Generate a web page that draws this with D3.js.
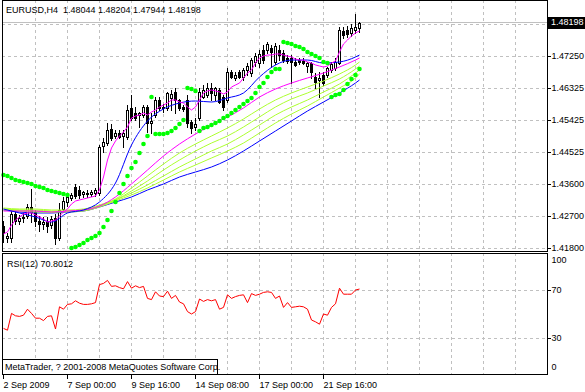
<!DOCTYPE html>
<html>
<head>
<meta charset="utf-8">
<script src="https://cdn.jsdelivr.net/npm/d3@7"></script>
<style>
  html, body { margin: 0; padding: 0; background: #fff; }
  svg { display: block; font-family: "Liberation Sans", Arial, sans-serif; font-size: 9px; }
  .pre { white-space: pre; }
</style>
</head>
<body>
<div id="chart"></div>
<script>
// ---- data ----
const title = 'EURUSD,H4  1.48044 1.48204 1.47944 1.48198';
const bid = 1.48198;

const opens = [1.42425,1.42084,1.42084,1.42765,1.42567,1.42652,1.42708,1.42964,1.42822,1.42567,
  1.42482,1.42567,1.42453,1.42652,1.42084,1.42907,1.43106,1.43219,1.43532,1.43446,
  1.43333,1.43361,1.43333,1.43361,1.43361,1.44695,1.44780,1.45178,1.44979,1.45064,
  1.44979,1.44951,1.45774,1.45632,1.45575,1.45575,1.45802,1.45348,1.45575,1.46001,
  1.45774,1.45774,1.46058,1.46228,1.46001,1.45802,1.46001,1.45377,1.45235,1.45490,
  1.46086,1.46143,1.46342,1.46143,1.46285,1.46086,1.46001,1.46796,1.46626,1.46796,
  1.46654,1.46853,1.46767,1.47080,1.47051,1.47420,1.47420,1.47477,1.47080,1.47420,
  1.47335,1.47193,1.47193,1.47080,1.47136,1.47108,1.46966,1.47051,1.46654,1.46569,
  1.46711,1.46711,1.46853,1.46909,1.47051,1.47960,1.47988,1.47903,1.47988,1.48044];
const highs = [1.42567,1.42226,1.42879,1.42822,1.42737,1.42794,1.43049,1.43475,1.42879,1.42708,
  1.42680,1.42680,1.42708,1.42765,1.43077,1.43248,1.43305,1.43361,1.43617,1.43560,
  1.43418,1.43446,1.43446,1.43503,1.44724,1.44922,1.45348,1.45320,1.45150,1.45150,
  1.45150,1.45859,1.46143,1.45802,1.45660,1.45859,1.45859,1.45632,1.46086,1.46086,
  1.45887,1.46228,1.46285,1.46342,1.46029,1.45859,1.46143,1.45433,1.45490,1.46342,
  1.46427,1.46484,1.46484,1.46370,1.46342,1.46143,1.46909,1.46853,1.46796,1.46853,
  1.46909,1.47051,1.47193,1.47335,1.47420,1.47562,1.47647,1.47562,1.47619,1.47562,
  1.47420,1.47278,1.47278,1.47193,1.47193,1.47193,1.47080,1.47080,1.46767,1.46796,
  1.46796,1.46938,1.47080,1.47193,1.48073,1.48073,1.48102,1.48158,1.48442,1.48204];
const lows = [1.41970,1.41970,1.41970,1.42482,1.42482,1.42538,1.42652,1.42538,1.42425,1.42283,
  1.42340,1.42255,1.42368,1.41914,1.42027,1.42822,1.42992,1.43163,1.43219,1.43219,
  1.43248,1.43248,1.43276,1.43276,1.43305,1.44525,1.44724,1.44866,1.44922,1.44922,
  1.44667,1.44894,1.45433,1.45433,1.45235,1.45519,1.45093,1.45064,1.45519,1.45717,
  1.45660,1.45717,1.45717,1.45632,1.45717,1.45689,1.45235,1.45064,1.45150,1.45433,
  1.46058,1.46086,1.46001,1.46001,1.45916,1.45717,1.45944,1.46626,1.46569,1.46626,
  1.46569,1.46711,1.46682,1.46966,1.46938,1.47051,1.47335,1.46938,1.47023,1.47136,
  1.47080,1.47051,1.46484,1.46966,1.47023,1.47023,1.46796,1.46626,1.46342,1.46086,
  1.46427,1.46654,1.46796,1.46853,1.47023,1.47761,1.47789,1.47818,1.47903,1.47944];
const closes = [1.42226,1.42141,1.42765,1.42567,1.42652,1.42680,1.42964,1.42822,1.42567,1.42482,
  1.42538,1.42425,1.42623,1.42084,1.42879,1.43134,1.43248,1.43305,1.43276,1.43305,
  1.43390,1.43333,1.43390,1.43446,1.44667,1.44809,1.45150,1.44922,1.45064,1.44951,
  1.45064,1.45717,1.45490,1.45490,1.45632,1.45802,1.45348,1.45405,1.46001,1.45774,
  1.45802,1.46200,1.46171,1.46001,1.45774,1.45746,1.45348,1.45206,1.45320,1.46228,
  1.46285,1.46342,1.46200,1.46342,1.45944,1.45802,1.46796,1.46654,1.46711,1.46654,
  1.46853,1.46966,1.47136,1.47250,1.47307,1.47136,1.47591,1.47364,1.47534,1.47278,
  1.47136,1.47108,1.47080,1.46995,1.47080,1.47051,1.47051,1.46796,1.46512,1.46626,
  1.46484,1.46909,1.47023,1.47080,1.47988,1.47846,1.47874,1.48045,1.48073,1.48198];

// parabolic SAR, one dot per bar
const sar = [1.43872,1.43844,1.43787,1.43730,1.43702,1.43674,1.43645,1.43617,1.43560,1.43532,
  1.43503,1.43446,1.43418,1.43390,1.43361,1.43333,1.43305,1.41800,1.41829,1.41886,
  1.41942,1.42027,1.42084,1.42141,1.42226,1.42396,1.42595,1.42850,1.43106,1.43361,
  1.43617,1.43844,1.44071,1.44242,1.44497,1.44752,1.44979,1.46086,1.45036,1.45036,
  1.45036,1.45064,1.45121,1.45206,1.45320,1.45433,1.46342,1.46313,1.46257,1.45121,
  1.45206,1.45235,1.45291,1.45348,1.45405,1.45490,1.45547,1.45632,1.45717,1.45802,
  1.45887,1.45973,1.46058,1.46200,1.46370,1.46484,1.46654,1.46796,1.46881,1.46881,
  1.47647,1.47619,1.47591,1.47534,1.47505,1.47449,1.47364,1.47307,1.47250,1.47193,
  1.47080,1.47051,1.46086,1.46143,1.46171,1.46285,1.46455,1.46597,1.46711,1.46881];

// fast magenta average, one value per bar
const maFast = [1.42198,1.42255,1.42453,1.42595,1.42680,1.42765,1.42794,1.42794,1.42737,1.42680,
  1.42623,1.42538,1.42567,1.42595,1.42708,1.42822,1.42907,1.43049,1.43134,1.43163,
  1.43191,1.43219,1.43248,1.43276,1.43446,1.43815,1.44298,1.44639,1.44837,1.44979,
  1.45093,1.45235,1.45490,1.45547,1.45575,1.45632,1.45575,1.45660,1.45717,1.45802,
  1.45859,1.45916,1.46001,1.46001,1.45944,1.45916,1.45802,1.45717,1.45802,1.46001,
  1.46200,1.46257,1.46285,1.46257,1.46228,1.46171,1.46228,1.46370,1.46427,1.46484,
  1.46626,1.46767,1.46853,1.47051,1.47193,1.47250,1.47278,1.47278,1.47307,1.47307,
  1.47278,1.47250,1.47222,1.47165,1.47136,1.47136,1.47080,1.47051,1.46995,1.46966,
  1.46938,1.46966,1.47051,1.47108,1.47364,1.47591,1.47704,1.47818,1.47903,1.47960];

// slower averages, read every fourth bar
const maIdx = [0,4,8,12,16,20,24,28,32,36,40,44,48,52,56,60,64,68,72,76,80,84,88,89];
const maBlue = [1.42907,1.42794,1.42680,1.42538,1.42794,1.42879,1.43106,1.43645,1.44724,1.45405,
  1.45746,1.45916,1.45973,1.45944,1.46058,1.46200,1.46654,1.46995,1.47136,1.47136,
  1.47051,1.47080,1.47222,1.47278];
const maMagentaSlow = [1.42850,1.42850,1.42850,1.42822,1.42850,1.42879,1.42992,1.43248,1.43617,1.44014,
  1.44412,1.44752,1.45036,1.45291,1.45519,1.45774,1.46086,1.46313,1.46484,1.46626,
  1.46767,1.46938,1.47136,1.47193];
const maLime1 = [1.42936,1.42907,1.42907,1.42879,1.42879,1.42907,1.43021,1.43191,1.43503,1.43844,
  1.44184,1.44497,1.44752,1.44979,1.45206,1.45462,1.45746,1.46001,1.46200,1.46370,
  1.46540,1.46739,1.46995,1.47080];
const maLime2 = [1.42907,1.42879,1.42879,1.42850,1.42850,1.42879,1.42992,1.43163,1.43418,1.43702,
  1.44014,1.44298,1.44553,1.44780,1.44979,1.45235,1.45519,1.45802,1.46029,1.46200,
  1.46398,1.46597,1.46881,1.46966];
const maLime3 = [1.42907,1.42879,1.42850,1.42822,1.42850,1.42879,1.42992,1.43163,1.43361,1.43589,
  1.43844,1.44099,1.44327,1.44553,1.44752,1.45008,1.45291,1.45575,1.45802,1.46001,
  1.46228,1.46455,1.46767,1.46853];
const maLime4 = [1.42879,1.42850,1.42822,1.42822,1.42822,1.42850,1.42964,1.43134,1.43305,1.43503,
  1.43730,1.43957,1.44156,1.44355,1.44553,1.44780,1.45064,1.45348,1.45604,1.45831,
  1.46086,1.46342,1.46626,1.46739];
const maBlueSlow = [1.42879,1.42822,1.42794,1.42794,1.42822,1.42850,1.42964,1.43106,1.43248,1.43446,
  1.43617,1.43815,1.43957,1.44099,1.44298,1.44553,1.44837,1.45121,1.45405,1.45689,
  1.45944,1.46200,1.46484,1.46569];

const rsiValues = [38,36.5,50.5,48.5,48,49,54,50.5,46.5,46.5,
  44.5,48,48.5,37.5,56,54,58,58.5,61,59,
  58,58,58.5,59.5,74.5,75.5,78,73,73.5,72,
  71,77,71.5,73.5,72,73,63,62,68.5,65,
  64.5,69,63,65.5,60,58.5,52,50,52,62.5,
  60.5,62,61,62,54,55.5,66,63,64.5,65.5,
  66,59.5,67,65.5,66.5,68,68.5,68,63,65,
  55.5,59.5,55.5,56,56.5,56,54,45,43.5,41.5,
  50,49,55.5,58.5,71.5,66.5,66.5,66.5,70,70.8012];
const rsiLabel = 'RSI(12) 70.8012';

const priceTicks = [1.47250, 1.46325, 1.45425, 1.44525, 1.43600, 1.42700, 1.41800];
const priceGridTop = 1.48150; // grid line hidden behind the bid label
const rsiTicks = [100, 70, 30, 0];
const rsiLevels = [70, 30];
const timeTickIdx = [0, 16, 32, 48, 64, 80];
const timeLabels = ['2 Sep 2009', '7 Sep 00:00', '9 Sep 16:00', '14 Sep 08:00', '17 Sep 00:00', '21 Sep 16:00'];
const copyright = 'MetaTrader, ? 2001-2008 MetaQuotes Software Corp.';

// ---- layout ----
const W = 585, H = 392;
const left = 2, right = 547;
const mainTop = 0, mainBottom = 251;
const rsiTop = 253, rsiBottom = 374;
const gridColor = '#c0c0c0';

const svg = d3.select('#chart').append('svg')
  .attr('width', W).attr('height', H);

const x = d3.scaleLinear().domain([0, 89]).range([3.5, 359.5]);
const y = d3.scaleLinear().domain([1.41800, 1.47250]).range([248, 56]);
const yr = d3.scaleLinear().domain([0, 100]).range([374, 254]);
const px = v => Math.floor(v) + 0.5;

// vertical grid every 8 bars, both windows
const gridIdx = d3.range(8, 129, 8);
[[mainTop, mainBottom], [rsiTop, rsiBottom]].forEach(([t, b]) => {
  svg.append('g').selectAll('line')
    .data(gridIdx).enter().append('line')
      .attr('x1', d => px(x(d))).attr('x2', d => px(x(d)))
      .attr('y1', t).attr('y2', b)
      .attr('stroke', gridColor).attr('stroke-dasharray', '3,3')
      .attr('shape-rendering', 'crispEdges');
});

// horizontal grid, main window
svg.append('g').selectAll('line')
  .data([priceGridTop].concat(priceTicks)).enter().append('line')
    .attr('x1', left).attr('x2', right)
    .attr('y1', d => px(y(d))).attr('y2', d => px(y(d)))
    .attr('stroke', gridColor).attr('stroke-dasharray', '3,3')
    .attr('shape-rendering', 'crispEdges');

// horizontal grid, RSI levels
svg.append('g').selectAll('line')
  .data(rsiLevels).enter().append('line')
    .attr('x1', left).attr('x2', right)
    .attr('y1', d => px(yr(d))).attr('y2', d => px(yr(d)))
    .attr('stroke', gridColor).attr('stroke-dasharray', '3,3')
    .attr('shape-rendering', 'crispEdges');

// bid line
svg.append('line')
  .attr('x1', left).attr('x2', right)
  .attr('y1', px(y(bid))).attr('y2', px(y(bid)))
  .attr('stroke', gridColor).attr('shape-rendering', 'crispEdges');

// candles
const bars = opens.map((o, i) => ({ i, o, h: highs[i], l: lows[i], c: closes[i] }));
const candles = svg.append('g').attr('shape-rendering', 'crispEdges');
candles.selectAll('.wick')
  .data(bars).enter().append('line')
    .attr('class', 'wick')
    .attr('x1', d => x(d.i)).attr('x2', d => x(d.i))
    .attr('y1', d => Math.round(y(d.h))).attr('y2', d => Math.round(y(d.l)) + 1)
    .attr('stroke', '#000');
candles.selectAll('.body')
  .data(bars).enter().append('rect')
    .attr('class', 'body')
    .attr('x', d => x(d.i) - 1)
    .attr('width', 2)
    .attr('y', d => Math.round(y(Math.max(d.o, d.c))) + 0.5)
    .attr('height', d => Math.max(0, Math.round(y(Math.min(d.o, d.c))) - Math.round(y(Math.max(d.o, d.c)))))
    .attr('fill', d => d.c >= d.o ? '#fff' : '#000')
    .attr('stroke', '#000');

// moving averages
const slowLine = vals => d3.line()
  .x((d, k) => x(maIdx[k]))
  .y(d => y(d))
  .curve(d3.curveMonotoneX)(vals);

const slow = [
  [maBlueSlow, '#0000ff'],
  [maLime4, '#adff2f'],
  [maLime3, '#adff2f'],
  [maLime2, '#adff2f'],
  [maLime1, '#adff2f'],
  [maMagentaSlow, '#ff00ff'],
  [maBlue, '#0000ff']
];
const lines = svg.append('g').attr('fill', 'none').attr('stroke-width', 1);
slow.forEach(([vals, col]) => {
  lines.append('path').attr('d', slowLine(vals)).attr('stroke', col);
});
lines.append('path')
  .attr('d', d3.line().x((d, i) => x(i)).y(d => y(d))(maFast))
  .attr('stroke', '#ff00ff');

// parabolic SAR
svg.append('g').selectAll('circle')
  .data(sar).enter().append('circle')
    .attr('cx', (d, i) => x(i))
    .attr('cy', d => y(d))
    .attr('r', 2.3)
    .attr('fill', '#00ff00');

// RSI
svg.append('path')
  .attr('d', d3.line().x((d, i) => x(i)).y(d => yr(d))(rsiValues))
  .attr('fill', 'none').attr('stroke', '#ff0000');

// window frames
svg.append('rect')
  .attr('x', left + 0.5).attr('y', mainTop + 0.5)
  .attr('width', right - left).attr('height', mainBottom - mainTop)
  .attr('fill', 'none').attr('stroke', '#000').attr('shape-rendering', 'crispEdges');
svg.append('rect')
  .attr('x', left + 0.5).attr('y', rsiTop + 0.5)
  .attr('width', right - left).attr('height', rsiBottom - rsiTop)
  .attr('fill', 'none').attr('stroke', '#000').attr('shape-rendering', 'crispEdges');

// price axis
const priceAxis = svg.append('g')
  .attr('transform', `translate(${right + 0.5},0)`)
  .call(d3.axisRight(y).tickValues(priceTicks).tickSize(3).tickPadding(1)
    .tickFormat(d3.format('.5f')));
priceAxis.select('.domain').remove();
priceAxis.selectAll('.tick').attr('transform', d => `translate(0,${px(y(d))})`);
priceAxis.attr('font-family', null).attr('font-size', null);
priceAxis.selectAll('line').attr('shape-rendering', 'crispEdges');

// bid label
svg.append('rect')
  .attr('x', right + 1).attr('y', Math.round(y(bid)) - 6)
  .attr('width', W - right - 1).attr('height', 12)
  .attr('fill', '#000');
svg.append('text')
  .attr('x', right + 4).attr('y', y(bid)).attr('dy', '0.32em')
  .attr('fill', '#fff').text(d3.format('.5f')(bid));

// RSI axis
const rsiAxis = svg.append('g')
  .attr('transform', `translate(${right + 0.5},0)`)
  .call(d3.axisRight(yr).tickValues(rsiTicks).tickSize(3).tickPadding(1));
rsiAxis.select('.domain').remove();
rsiAxis.attr('font-family', null).attr('font-size', null);
rsiAxis.selectAll('.tick').filter(d => d === 100 || d === 0).select('line').remove();
rsiAxis.selectAll('.tick text')
  .attr('dy', d => d === 100 ? '0.95em' : d === 0 ? '-0.45em' : '0.32em');
rsiAxis.selectAll('line').attr('shape-rendering', 'crispEdges');

// time axis
const timeAxis = svg.append('g')
  .attr('transform', `translate(0,${rsiBottom + 0.5})`)
  .call(d3.axisBottom(x).tickValues(timeTickIdx).tickSize(4).tickPadding(3)
    .tickFormat((d, k) => timeLabels[k]));
timeAxis.select('.domain').remove();
timeAxis.attr('font-family', null).attr('font-size', null);
timeAxis.selectAll('.tick').attr('transform', d => `translate(${x(d)},0)`);
timeAxis.selectAll('line').attr('shape-rendering', 'crispEdges');
timeAxis.selectAll('text').attr('text-anchor', 'start').attr('x', 0);

// texts in the windows
svg.append('text').attr('class', 'pre')
  .attr('x', 6).attr('y', 13).text(title);
svg.append('text')
  .attr('x', 7).attr('y', 267).text(rsiLabel);

svg.append('rect')
  .attr('x', left + 0.5).attr('y', 359.5)
  .attr('width', 215).attr('height', 15)
  .attr('fill', '#fff').attr('stroke', '#000').attr('shape-rendering', 'crispEdges');
svg.append('text')
  .attr('x', 5).attr('y', 370).text(copyright);
</script>
</body>
</html>
